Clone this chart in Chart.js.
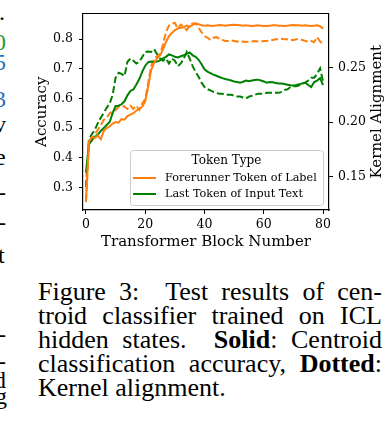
<!DOCTYPE html>
<html>
<head>
<meta charset="utf-8">
<script src="https://cdn.jsdelivr.net/npm/chart.js@4.4.1/dist/chart.umd.min.js"></script>
<style>
  html, body { margin: 0; padding: 0; background: #fff; }
  body { width: 386px; height: 430px; position: relative; overflow: hidden; }
  #chartBox { position: absolute; left: 0; top: 0; width: 386px; height: 260px; }
  #edge { position: absolute; left: 0; top: 0; width: 11px; height: 430px; overflow: hidden;
          font-family: 'Liberation Serif', serif; font-size: 24px; line-height: 24px; }
  #edge span { position: absolute; }
  #caption { position: absolute; left: 38px; top: 280px; width: 344px;
             font-family: 'Liberation Serif', serif; font-size: 26px; line-height: 24px; color: #000; }
  #caption div { text-align: justify; text-align-last: justify; white-space: nowrap; }
  #caption div.last { text-align: left; text-align-last: left; }
</style>
</head>
<body>
<div id="edge">
  <span style="left:-1px; top:0px">.</span>
  <span style="left:-6px; top:30px; color:#2a9a2a">0</span>
  <span style="left:-6px; top:50px; color:#2a72c0">5</span>
  <span style="left:-6px; top:87px; color:#2a72c0">3</span>
  <span style="left:-6px; top:112px">v</span>
  <span style="left:-5px; top:145px">e</span>
  <span style="left:-2px; top:180px">-</span>
  <span style="left:-2px; top:210px">-</span>
  <span style="left:-2px; top:243px">t</span>
  <span style="left:-2px; top:322px">-</span>
  <span style="left:-2px; top:349px">-</span>
  <span style="left:-6px; top:368px">d</span>
  <span style="left:-5px; top:384px">g</span>
</div>
<div id="chartBox"><canvas id="kernelChart" width="386" height="260"></canvas></div>
<div id="caption">
  <div>Figure 3:&nbsp; Test results of cen-</div>
  <div>troid classifier trained on ICL</div>
  <div>hidden states.&nbsp; <b>Solid</b>: Centroid</div>
  <div>classification accuracy, <b>Dotted</b>:</div>
  <div class="last">Kernel alignment.</div>
</div>
<script>
// transformer block index (x axis)
const layers = [
  0, 1, 2, 3, 4, 5, 6, 7, 8, 9,
  10, 11, 12, 13, 14, 15, 16, 17, 18, 19,
  20, 21, 22, 23, 24, 25, 26, 27, 28, 29,
  30, 31, 32, 33, 34, 35, 36, 37, 38, 39,
  40, 41, 42, 43, 44, 45, 46, 47, 48, 49,
  50, 51, 52, 53, 54, 55, 56, 57, 58, 59,
  60, 61, 62, 63, 64, 65, 66, 67, 68, 69,
  70, 71, 72, 73, 74, 75, 76, 77, 78, 79,
  80,
];

// Forerunner Token of Label
const forerunnerAcc = [
  0.25, 0.455, 0.47, 0.466, 0.475, 0.462, 0.49, 0.50, 0.505, 0.515,
  0.52, 0.518, 0.53, 0.528, 0.54, 0.545, 0.55, 0.558, 0.565, 0.572,
  0.59, 0.64, 0.695, 0.72, 0.735, 0.745, 0.765, 0.79, 0.81, 0.82,
  0.83, 0.835, 0.838, 0.84, 0.845, 0.842, 0.848, 0.853, 0.85, 0.846,
  0.845, 0.846, 0.845, 0.844, 0.846, 0.847, 0.846, 0.845, 0.846, 0.847,
  0.848, 0.847, 0.846, 0.845, 0.846, 0.845, 0.844, 0.845, 0.846, 0.845,
  0.844, 0.844, 0.845, 0.846, 0.846, 0.845, 0.845, 0.844, 0.845, 0.846,
  0.847, 0.846, 0.846, 0.845, 0.846, 0.845, 0.844, 0.845, 0.846, 0.843,
  0.835,
];
const forerunnerKernel = [
  0.128, 0.180, 0.183, 0.189, 0.193, 0.197, 0.202, 0.204, 0.208, 0.210,
  0.211, 0.214, 0.215, 0.214, 0.212, 0.215, 0.212, 0.215, 0.211, 0.217,
  0.221, 0.236, 0.251, 0.258, 0.260, 0.262, 0.271, 0.282, 0.288, 0.290,
  0.2905, 0.285, 0.289, 0.287, 0.284, 0.288, 0.290, 0.290, 0.286, 0.282,
  0.2785, 0.277, 0.275, 0.277, 0.2775, 0.276, 0.275, 0.274, 0.274, 0.2745,
  0.274, 0.2735, 0.273, 0.2735, 0.273, 0.2735, 0.2735, 0.274, 0.2735, 0.2735,
  0.274, 0.274, 0.2745, 0.275, 0.2755, 0.2755, 0.276, 0.2755, 0.2755, 0.275,
  0.275, 0.2755, 0.2755, 0.275, 0.274, 0.2735, 0.274, 0.273, 0.2775, 0.2735,
  0.2715,
];

// Last Token of Input Text
const lastTokenAcc = [
  0.35, 0.445, 0.46, 0.47, 0.478, 0.49, 0.50, 0.51, 0.52, 0.55,
  0.574, 0.575, 0.58, 0.59, 0.61, 0.625, 0.63, 0.647, 0.665, 0.69,
  0.71, 0.722, 0.724, 0.722, 0.724, 0.728, 0.735, 0.74, 0.748, 0.745,
  0.74, 0.738, 0.742, 0.745, 0.75, 0.755, 0.745, 0.74, 0.73, 0.715,
  0.698, 0.69, 0.685, 0.68, 0.676, 0.672, 0.668, 0.665, 0.663, 0.66,
  0.657, 0.655, 0.653, 0.656, 0.66, 0.658, 0.66, 0.662, 0.663, 0.66,
  0.657, 0.653, 0.655, 0.654, 0.652, 0.65, 0.65, 0.648, 0.646, 0.644,
  0.643, 0.645, 0.648, 0.65, 0.653, 0.645, 0.638, 0.655, 0.66, 0.668,
  0.645,
];
const lastTokenKernel = [
  0.141, 0.1845, 0.189, 0.193, 0.199, 0.204, 0.2085, 0.213, 0.217, 0.225,
  0.2405, 0.245, 0.244, 0.242, 0.255, 0.258, 0.256, 0.2535, 0.255, 0.2595,
  0.264, 0.2645, 0.264, 0.2665, 0.262, 0.258, 0.256, 0.258, 0.2535, 0.258,
  0.256, 0.251, 0.2535, 0.258, 0.264, 0.258, 0.251, 0.2457, 0.2414, 0.236,
  0.232, 0.230, 0.229, 0.2276, 0.2267, 0.2258, 0.2258, 0.225, 0.225, 0.225,
  0.2241, 0.2233, 0.2233, 0.2224, 0.2216, 0.2233, 0.2241, 0.225, 0.2258, 0.2258,
  0.2258, 0.2267, 0.2267, 0.2267, 0.2267, 0.2267, 0.2276, 0.2293, 0.230, 0.232,
  0.2328, 0.2328, 0.2336, 0.2353, 0.236, 0.238, 0.2405, 0.2405, 0.244, 0.249,
  0.237,
];

const blockTicks = [0, 20, 40, 60, 80];
const accuracyTicks = [0.3, 0.4, 0.5, 0.6, 0.7, 0.8];
const kernelTicks = [0.15, 0.20, 0.25];
const seriesNames = ['Forerunner Token of Label', 'Last Token of Input Text'];
const legendTitle = 'Token Type';

const ORANGE = '#ff7f0e';
const GREEN = '#008000';
const FONT = "'DejaVu Serif', serif";

function toPoints(values) {
  return layers.map((l, i) => ({ x: l, y: values[i] }));
}

// top spine, right-hand axis title and the boxed legend
const figureExtras = {
  id: 'figureExtras',
  afterDraw(chart) {
    const ctx = chart.ctx;
    const area = chart.chartArea;
    ctx.save();

    ctx.strokeStyle = '#000';
    ctx.lineWidth = 1.2;
    ctx.beginPath();
    ctx.moveTo(area.left, area.top);
    ctx.lineTo(area.right, area.top);
    ctx.stroke();

    ctx.save();
    ctx.translate(chart.scales.y1.right - 9, (area.top + area.bottom) / 2);
    ctx.rotate(-Math.PI / 2);
    ctx.font = '15px ' + FONT;
    ctx.fillStyle = '#000';
    ctx.textAlign = 'center';
    ctx.textBaseline = 'middle';
    ctx.fillText('Kernel Alignment', 0, 0);
    ctx.restore();

    // legend box in the lower right of the plot
    const bx = area.left + 47, by = area.bottom - 60;
    const bw = area.right - 6 - bx, bh = 55;
    ctx.fillStyle = 'rgba(255,255,255,0.8)';
    ctx.strokeStyle = '#cccccc';
    ctx.lineWidth = 1;
    ctx.beginPath();
    ctx.roundRect(bx + 0.5, by + 0.5, bw, bh, 3);
    ctx.fill();
    ctx.stroke();

    ctx.fillStyle = '#000';
    ctx.textBaseline = 'middle';
    ctx.textAlign = 'center';
    ctx.font = '12px ' + FONT;
    ctx.fillText(legendTitle, bx + bw / 2, by + 11);

    const colors = [ORANGE, GREEN];
    ctx.font = '11.2px ' + FONT;
    ctx.textAlign = 'left';
    seriesNames.forEach((name, i) => {
      const ly = by + 28 + i * 16;
      ctx.strokeStyle = colors[i];
      ctx.lineWidth = 2;
      ctx.beginPath();
      ctx.moveTo(bx + 3, ly);
      ctx.lineTo(bx + 26, ly);
      ctx.stroke();
      ctx.fillStyle = '#000';
      ctx.fillText(name, bx + 35, ly);
    });

    ctx.restore();
  },
};

const lineStyle = { pointRadius: 0, borderWidth: 2, tension: 0, fill: false };

const kernelChart = new Chart(document.getElementById('kernelChart'), {
  type: 'line',
  data: {
    datasets: [
      { ...lineStyle, label: seriesNames[0], data: toPoints(forerunnerAcc), borderColor: ORANGE, yAxisID: 'y' },
      { ...lineStyle, label: seriesNames[1], data: toPoints(lastTokenAcc), borderColor: GREEN, yAxisID: 'y' },
      { ...lineStyle, label: seriesNames[0] + ' (kernel)', data: toPoints(forerunnerKernel), borderColor: ORANGE, borderDash: [7, 3], yAxisID: 'y1' },
      { ...lineStyle, label: seriesNames[1] + ' (kernel)', data: toPoints(lastTokenKernel), borderColor: GREEN, borderDash: [7, 3], yAxisID: 'y1' },
    ],
  },
  options: {
    responsive: false,
    animation: false,
    layout: { padding: { top: 2, left: 0, right: 0, bottom: 0 } },
    plugins: { legend: { display: false }, tooltip: { enabled: false } },
    scales: {
      x: {
        type: 'linear',
        min: -1,
        max: 82,
        afterBuildTicks: (s) => { s.ticks = blockTicks.map((v) => ({ value: v })); },
        afterFit: (s) => { s.height = 50; },
        grid: { drawOnChartArea: false, drawTicks: true, tickLength: 4, color: '#000' },
        border: { color: '#000', width: 1.2 },
        ticks: { color: '#000', font: { family: FONT, size: 12.5 }, padding: 3, maxRotation: 0 },
        title: { display: true, text: 'Transformer Block Number', color: '#000',
                 font: { family: FONT, size: 15 }, padding: { top: 0, bottom: 9 } },
      },
      y: {
        position: 'left',
        min: 0.2236,
        max: 0.886,
        afterBuildTicks: (s) => { s.ticks = accuracyTicks.map((v) => ({ value: v })); },
        afterFit: (s) => { s.width = 83; },
        grid: { drawOnChartArea: false, drawTicks: true, tickLength: 4, color: '#000' },
        border: { color: '#000', width: 1.2 },
        ticks: { color: '#000', font: { family: FONT, size: 12.5 }, padding: 6,
                 callback: (v) => v.toFixed(1) },
        title: { display: true, text: 'Accuracy', color: '#000',
                 font: { family: FONT, size: 15 }, padding: { top: 33, bottom: 0 } },
      },
      y1: {
        position: 'right',
        min: 0.1198,
        max: 0.2991,
        afterBuildTicks: (s) => { s.ticks = kernelTicks.map((v) => ({ value: v })); },
        afterFit: (s) => { s.width = 57; },
        grid: { drawOnChartArea: false, drawTicks: true, tickLength: 4, color: '#000' },
        border: { color: '#000', width: 1.2 },
        ticks: { color: '#000', font: { family: FONT, size: 12.5 }, padding: 5,
                 callback: (v) => v.toFixed(2) },
      },
    },
  },
  plugins: [figureExtras],
});
</script>
</body>
</html>
